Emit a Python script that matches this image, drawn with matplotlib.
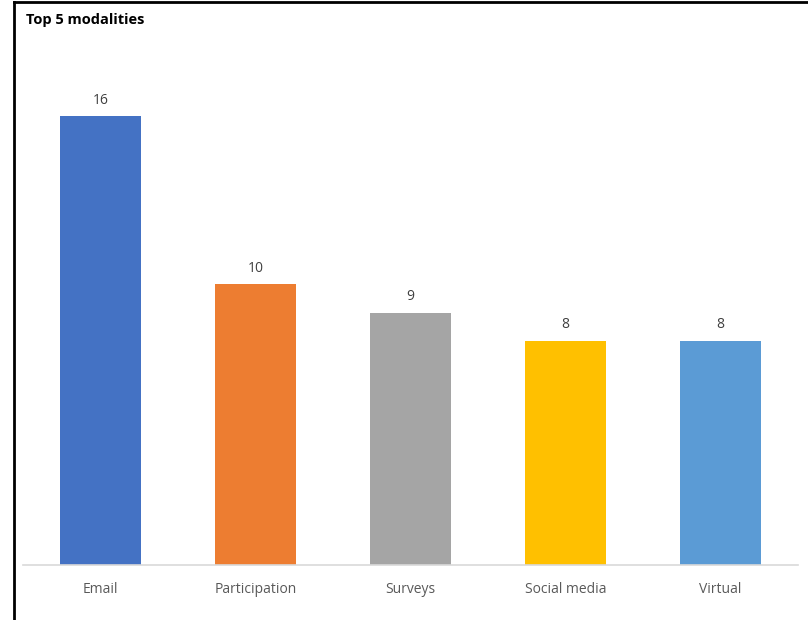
import matplotlib
matplotlib.use("Agg")
import matplotlib.pyplot as plt
from matplotlib.lines import Line2D

categories = ["Email", "Participation", "Surveys", "Social media", "Virtual"]
counts = [16, 10, 9, 8, 8]
colors = ["#4472C4", "#ED7D31", "#A5A5A5", "#FFC000", "#5B9BD5"]

plt.rcParams["font.family"] = ["Open Sans", "DejaVu Sans"]

fig = plt.figure(figsize=(8.08, 6.2), dpi=100)
ax = fig.add_axes([23 / 808, 55 / 620, 775 / 808, 505 / 620])

x = list(range(len(categories)))
bars = ax.bar(x, counts, width=0.52, color=colors)
for b, v in zip(bars, counts):
    ax.text(b.get_x() + b.get_width() / 2, v + 0.3, str(v),
            ha="center", va="bottom", fontsize=10, color="#404040")

ax.set_xlim(-0.5, len(categories) - 0.5)
ax.set_ylim(0, 18)
ax.set_xticks(x)
ax.set_xticklabels(categories, fontsize=10, color="#595959")
ax.tick_params(axis="x", length=0, pad=12)
ax.set_yticks([])
for s in ["top", "right", "left"]:
    ax.spines[s].set_visible(False)
ax.spines["bottom"].set_color("#D9D9D9")
ax.spines["bottom"].set_linewidth(1.2)

fig.text(26 / 808, 1 - 20 / 620, "Top 5 modalities", fontsize=10.5,
         fontweight="bold", color="black", va="center", ha="left")

# cadre
fig.add_artist(Line2D([13.5 / 808, 13.5 / 808], [0, 1 - 1.5 / 620],
                      transform=fig.transFigure, color="black", lw=2))
fig.add_artist(Line2D([13.5 / 808, 1], [1 - 1.5 / 620, 1 - 1.5 / 620],
                      transform=fig.transFigure, color="black", lw=2))

fig.savefig("out.png", dpi=100)
